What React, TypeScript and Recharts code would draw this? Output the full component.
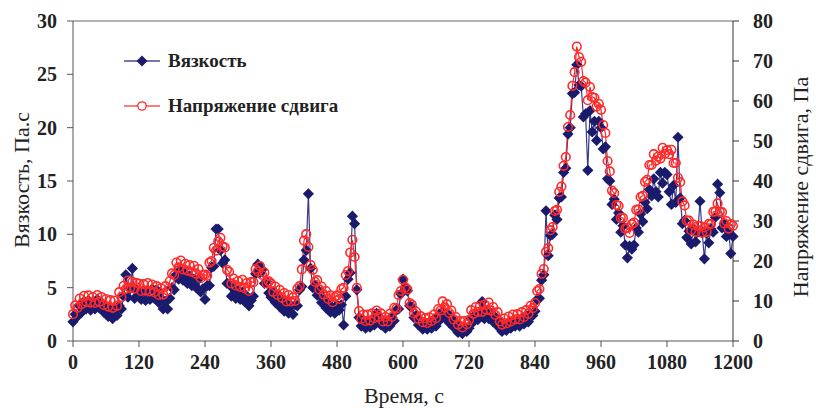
import { ComposedChart, Line, XAxis, YAxis, ReferenceLine } from "recharts";

// time, s (one reading every 4 s)
const times = [
  0, 4, 8, 12, 16, 20, 24, 28, 32, 36, 40, 44, 48, 52, 56,
  60, 64, 68, 72, 76, 80, 84, 88, 92, 96, 100, 104, 108, 112, 116,
  120, 124, 128, 132, 136, 140, 144, 148, 152, 156, 160, 164, 168, 172, 176,
  180, 184, 188, 192, 196, 200, 204, 208, 212, 216, 220, 224, 228, 232, 236,
  240, 244, 248, 252, 256, 260, 264, 268, 272, 276, 280, 284, 288, 292, 296,
  300, 304, 308, 312, 316, 320, 324, 328, 332, 336, 340, 344, 348, 352, 356,
  360, 364, 368, 372, 376, 380, 384, 388, 392, 396, 400, 404, 408, 412, 416,
  420, 424, 428, 432, 436, 440, 444, 448, 452, 456, 460, 464, 468, 472, 476,
  480, 484, 488, 492, 496, 500, 504, 508, 512, 516, 520, 524, 528, 532, 536,
  540, 544, 548, 552, 556, 560, 564, 568, 572, 576, 580, 584, 588, 592, 596,
  600, 604, 608, 612, 616, 620, 624, 628, 632, 636, 640, 644, 648, 652, 656,
  660, 664, 668, 672, 676, 680, 684, 688, 692, 696, 700, 704, 708, 712, 716,
  720, 724, 728, 732, 736, 740, 744, 748, 752, 756, 760, 764, 768, 772, 776,
  780, 784, 788, 792, 796, 800, 804, 808, 812, 816, 820, 824, 828, 832, 836,
  840, 844, 848, 852, 856, 860, 864, 868, 872, 876, 880, 884, 888, 892, 896,
  900, 904, 908, 912, 916, 920, 924, 928, 932, 936, 940, 944, 948, 952, 956,
  960, 964, 968, 972, 976, 980, 984, 988, 992, 996, 1000, 1004, 1008, 1012, 1016,
  1020, 1024, 1028, 1032, 1036, 1040, 1044, 1048, 1052, 1056, 1060, 1064, 1068, 1072, 1076,
  1080, 1084, 1088, 1092, 1096, 1100, 1104, 1108, 1112, 1116, 1120, 1124, 1128, 1132, 1136,
  1140, 1144, 1148, 1152, 1156, 1160, 1164, 1168, 1172, 1176, 1180, 1184, 1188, 1192, 1196,
  1200,
];

// Вязкость, Па.с
const viscosity = [
  1.8, 2.5, 2.3, 3.3, 2.7, 3.7, 3.0, 3.8, 2.9, 3.6, 3.0, 3.9, 3.1, 3.6, 2.7,
  3.2, 2.3, 2.9, 2.1, 2.9, 2.4, 3.3, 3.0, 4.2, 6.2, 4.1, 4.9, 6.8, 4.0, 4.8,
  4.6, 3.9, 4.7, 3.8, 4.7, 3.9, 4.9, 4.0, 4.8, 3.6, 4.0, 3.0, 3.7, 3.0, 4.0,
  5.0, 4.8, 6.2, 5.8, 6.7, 5.7, 6.3, 5.4, 6.1, 5.2, 5.8, 5.0, 5.8, 4.6, 4.9,
  3.9, 5.2, 5.2, 6.9, 7.0, 10.5, 10.5, 8.5, 7.3, 7.6, 5.4, 5.3, 4.2, 4.9, 4.0,
  4.7, 3.9, 4.6, 3.7, 4.2, 3.3, 3.8, 4.2, 6.3, 7.2, 6.4, 6.7, 5.4, 5.6, 4.5,
  4.1, 4.6, 3.6, 4.2, 3.2, 3.8, 2.8, 3.5, 2.6, 3.3, 2.5, 3.4, 3.3, 4.8, 5.1,
  7.6, 8.5, 13.8, 6.8, 5.0, 5.2, 4.3, 4.6, 3.6, 3.9, 3.1, 3.5, 2.7, 3.1, 2.6,
  3.4, 2.9, 3.4, 1.5, 4.2, 5.8, 6.4, 11.7, 11.0, 4.8, 2.2, 1.4, 1.9, 1.2, 1.9,
  1.3, 2.0, 1.5, 2.6, 2.1, 1.5, 1.9, 1.2, 1.9, 1.4, 2.2, 1.9, 2.9, 3.0, 4.4,
  5.8, 5.0, 4.7, 3.3, 3.2, 2.2, 2.4, 1.5, 1.9, 1.1, 1.6, 1.1, 1.7, 1.2, 1.9,
  1.4, 2.3, 2.0, 2.8, 2.2, 2.6, 1.7, 2.1, 1.3, 1.6, 0.8, 1.3, 0.7, 1.3, 0.9,
  1.2, 2.1, 1.8, 2.5, 2.0, 2.6, 3.7, 2.1, 2.7, 2.1, 2.6, 1.8, 2.2, 1.4, 1.8,
  0.9, 1.5, 1.0, 1.7, 1.2, 1.9, 1.4, 1.9, 1.4, 2.1, 1.6, 2.3, 1.8, 2.6, 2.4,
  2.8, 3.9, 4.0, 5.7, 6.2, 12.2, 8.0, 9.9, 10.0, 11.8, 11.4, 13.4, 13.5, 15.8, 16.2,
  19.4, 20.0, 23.2, 23.3, 25.9, 24.0, 23.9, 21.0, 21.3, 16.0, 21.6, 19.6, 20.6, 18.8, 20.6,
  20.0, 18.0, 18.2, 15.2, 15.0, 12.8, 13.3, 11.4, 12.0, 10.2, 10.8, 9.0, 7.8, 8.9, 8.6,
  9.0, 10.6, 10.2, 11.9, 11.2, 13.0, 12.4, 14.2, 13.6, 15.2, 14.0, 13.5, 15.8, 14.8, 15.8,
  15.6, 14.0, 12.8, 14.6, 13.0, 19.1, 13.4, 11.0, 11.3, 9.7, 10.3, 9.1, 10.5, 9.3, 10.2,
  13.1, 10.2, 7.7, 10.1, 9.2, 10.5, 10.2, 11.6, 14.7, 13.9, 10.6, 11.0, 9.8, 10.3, 8.2,
  9.8,
];

// Напряжение сдвига, Па
const shearStress = [
  6.7, 8.9, 8.3, 10.6, 9.2, 11.3, 9.8, 11.4, 9.6, 11.0, 9.5, 11.5, 9.8, 11.0, 9.0,
  10.5, 8.6, 10.2, 8.3, 10.1, 8.8, 12.2, 11.0, 13.8, 13.0, 15.1, 13.3, 14.8, 13.1, 14.5,
  14.3, 12.5, 14.2, 12.6, 14.5, 12.4, 14.1, 12.2, 13.7, 11.5, 13.2, 11.6, 13.7, 12.6, 15.0,
  16.9, 16.5, 19.6, 18.4, 20.1, 17.9, 19.3, 17.6, 19.0, 17.3, 18.8, 16.8, 18.0, 15.7, 16.5,
  16.6, 16.3, 19.6, 20.0, 23.3, 22.6, 24.9, 25.8, 23.6, 23.4, 17.8, 17.3, 14.4, 15.6, 13.9,
  15.0, 13.5, 15.3, 13.2, 14.5, 12.5, 14.8, 14.7, 18.0, 17.4, 18.7, 16.5, 17.1, 14.4, 14.9,
  14.4, 12.3, 13.6, 11.5, 12.8, 10.8, 12.0, 9.9, 11.5, 9.9, 10.9, 10.0, 13.1, 13.7, 17.9,
  25.1, 26.7, 23.5, 19.0, 17.8, 14.8, 15.2, 12.9, 13.6, 11.6, 12.5, 10.5, 11.4, 9.7, 11.0,
  11.4, 10.5, 13.0, 13.3, 16.5, 17.5, 22.1, 25.3, 21.0, 13.3, 7.5, 5.5, 6.6, 5.0, 6.6,
  5.1, 6.9, 5.7, 7.6, 6.0, 6.9, 4.9, 6.0, 4.9, 6.8, 6.0, 8.3, 8.1, 11.5, 12.5,
  15.3, 13.4, 12.9, 9.5, 9.1, 6.9, 7.3, 5.5, 6.2, 4.7, 5.7, 4.5, 5.9, 5.0, 6.6,
  5.7, 8.0, 7.6, 9.9, 8.4, 9.2, 7.0, 7.6, 5.4, 6.0, 4.1, 5.0, 3.4, 5.0, 4.2,
  5.2, 7.7, 6.8, 8.5, 7.3, 8.8, 7.3, 9.1, 7.8, 9.6, 7.6, 8.5, 6.5, 7.2, 4.9,
  4.1, 5.6, 4.4, 6.1, 4.9, 6.6, 5.4, 6.7, 5.4, 7.2, 6.0, 7.7, 6.8, 8.8, 8.2,
  9.5, 12.5, 13.0, 16.8, 18.0, 22.3, 23.2, 27.7, 28.5, 32.5, 32.8, 37.3, 38.6, 43.8, 46.0,
  53.5, 56.5, 63.8, 67.2, 73.6, 71.0, 69.8, 65.0, 64.6, 60.2, 63.5, 61.0, 60.8, 58.6, 59.3,
  57.8, 54.0, 52.0, 45.0, 42.4, 37.6, 37.0, 34.0, 33.8, 30.8, 30.8, 28.1, 28.3, 27.0, 29.2,
  29.6, 32.8, 32.9, 36.0, 36.3, 39.8, 40.3, 44.0, 44.0, 46.7, 45.1, 46.1, 45.6, 48.3, 46.8,
  47.7, 46.7, 47.8, 44.5, 44.5, 40.8, 39.7, 34.9, 33.9, 30.1, 30.1, 27.7, 29.1, 27.3, 28.8,
  28.8, 27.0, 28.4, 27.3, 29.3, 29.2, 32.3, 32.4, 34.4, 32.3, 32.2, 29.4, 30.0, 28.1, 29.2,
  28.8,
];

const timeTicks = [0, 120, 240, 360, 480, 600, 720, 840, 960, 1080, 1200];
const viscosityTicks = [0, 5, 10, 15, 20, 25, 30];
const stressTicks = [0, 10, 20, 30, 40, 50, 60, 70, 80];

const data = times.map((t, i) => ({
  t,
  viscosity: viscosity[i],
  stress: shearStress[i],
}));

const NAVY = "#1b1b6e";
const RED = "#ff2a2a";
const SERIF = "'Liberation Serif', 'Times New Roman', serif";

const tickStyle = { fontSize: 20, fontWeight: 700, fontFamily: SERIF, fill: "#222" };

function Diamond(props: any) {
  const { cx, cy, index } = props;
  if (cx == null || cy == null) return <g key={index} />;
  const r = 5.6;
  return (
    <polygon
      key={index}
      points={`${cx},${cy - r} ${cx + r},${cy} ${cx},${cy + r} ${cx - r},${cy}`}
      fill={NAVY}
    />
  );
}

function LegendRow({ kind, label, top }: { kind: "d" | "o"; label: string; top: number }) {
  return (
    <div style={{ position: "absolute", left: 122, top, display: "flex", alignItems: "center" }}>
      <svg width={40} height={14}>
        <line x1={2} y1={7} x2={38} y2={7} stroke={kind === "d" ? "#4a4a90" : "#ff5050"} strokeWidth={1.5} />
        {kind === "d" ? (
          <polygon points="20,1.5 25.5,7 20,12.5 14.5,7" fill={NAVY} />
        ) : (
          <circle cx={20} cy={7} r={4.2} fill="#fff" stroke={RED} strokeWidth={1.3} />
        )}
      </svg>
      <span
        style={{
          marginLeft: 6,
          fontFamily: SERIF,
          fontWeight: 700,
          fontSize: 19,
          color: "#222",
          whiteSpace: "nowrap",
        }}
      >
        {label}
      </span>
    </div>
  );
}

export default function App() {
  return (
    <div style={{ position: "absolute", left: 0, top: 0, width: 816, height: 408, background: "#fff" }}>
      <ComposedChart width={816} height={408} data={data} margin={{ top: 21, right: 0, bottom: 0, left: 0 }}>
        <XAxis
          dataKey="t"
          type="number"
          domain={[0, 1200]}
          ticks={timeTicks}
          interval={0}
          height={67}
          tick={tickStyle}
          tickSize={6}
          tickMargin={8}
          stroke="#555"
        />
        <YAxis
          yAxisId="left"
          domain={[0, 30]}
          ticks={viscosityTicks}
          interval={0}
          width={73}
          tick={tickStyle}
          tickSize={6}
          tickMargin={10}
          stroke="#555"
        />
        <YAxis
          yAxisId="right"
          orientation="right"
          domain={[0, 80]}
          ticks={stressTicks}
          interval={0}
          width={83}
          tick={tickStyle}
          tickSize={6}
          tickMargin={14}
          stroke="#333"
        />
        <ReferenceLine yAxisId="left" y={30} stroke="#999" strokeWidth={1.5} />
        <Line
          yAxisId="left"
          dataKey="viscosity"
          type="linear"
          stroke="#3a3a88"
          strokeWidth={1.2}
          dot={(p: any) => <Diamond key={p.index} {...p} />}
          activeDot={false}
          isAnimationActive={false}
        />
        <Line
          yAxisId="right"
          dataKey="stress"
          type="linear"
          stroke={RED}
          strokeWidth={1.2}
          dot={{ r: 4.3, stroke: RED, strokeWidth: 1.6, fill: "none" }}
          activeDot={false}
          isAnimationActive={false}
        />
      </ComposedChart>

      <LegendRow kind="d" label="Вязкость" top={50} />
      <LegendRow kind="o" label="Напряжение сдвига" top={95} />

      <div
        style={{
          position: "absolute",
          left: 22,
          top: 180,
          transform: "translate(-50%, -50%) rotate(-90deg)",
          fontFamily: SERIF,
          fontSize: 22,
          color: "#222",
          whiteSpace: "nowrap",
        }}
      >
        Вязкость, Па.с
      </div>
      <div
        style={{
          position: "absolute",
          left: 801,
          top: 187,
          transform: "translate(-50%, -50%) rotate(-90deg)",
          fontFamily: SERIF,
          fontSize: 22,
          color: "#222",
          whiteSpace: "nowrap",
        }}
      >
        Напряжение сдвига, Па
      </div>
      <div
        style={{
          position: "absolute",
          left: 404,
          top: 396,
          transform: "translate(-50%, -50%)",
          fontFamily: SERIF,
          fontSize: 22,
          color: "#222",
          whiteSpace: "nowrap",
        }}
      >
        Время, с
      </div>
    </div>
  );
}
